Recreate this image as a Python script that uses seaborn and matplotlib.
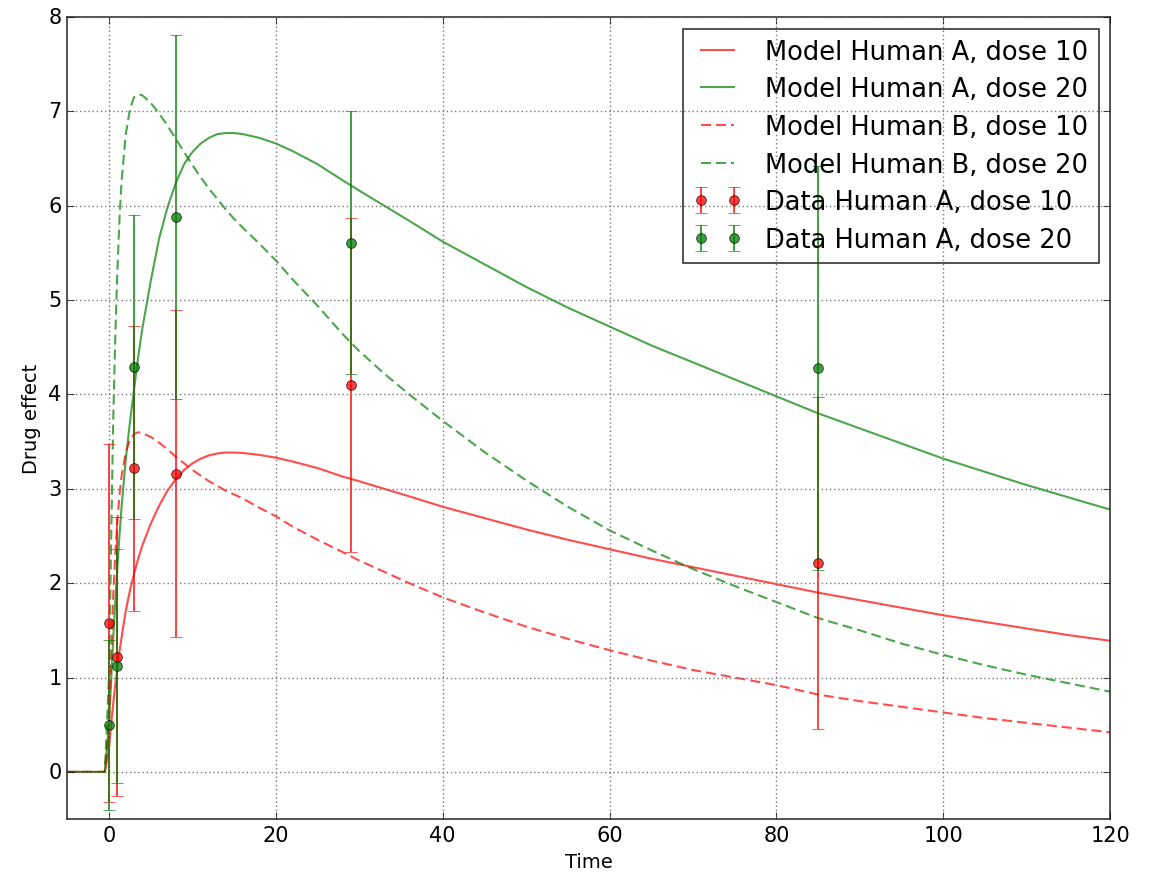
import matplotlib
matplotlib.use("Agg")
import matplotlib.pyplot as plt
import seaborn as sns
import pandas as pd

# ---- model curves ----
t_model = [-5, -0.5, 0, 0.25, 0.5, 0.75, 1, 1.25, 1.5, 2, 2.5, 3, 3.5, 4, 5, 6, 7, 8, 9, 10,
           11, 12, 13, 14, 15, 16, 18, 20, 22, 25, 28, 30, 33, 36, 40, 45, 50, 55, 60, 65,
           70, 75, 80, 85, 90, 95, 100, 105, 110, 115, 120]
model_A_10 = [0, 0, 0.25, 0.5, 0.72, 0.92, 1.1, 1.27, 1.42, 1.7, 1.92, 2.1, 2.26, 2.4, 2.63,
              2.82, 2.98, 3.1, 3.2, 3.27, 3.32, 3.355, 3.375, 3.385, 3.385, 3.38, 3.36, 3.33,
              3.29, 3.22, 3.13, 3.08, 3.0, 2.92, 2.81, 2.69, 2.57, 2.46, 2.36, 2.26, 2.17,
              2.08, 1.99, 1.90, 1.82, 1.74, 1.66, 1.59, 1.52, 1.45, 1.39]
model_A_20 = [0, 0, 0.5, 0.95, 1.4, 1.8, 2.15, 2.5, 2.8, 3.3, 3.7, 4.05, 4.4, 4.7, 5.2, 5.65,
              5.98, 6.24, 6.44, 6.57, 6.66, 6.72, 6.76, 6.77, 6.77, 6.76, 6.72, 6.66, 6.58,
              6.44, 6.27, 6.16, 6.0, 5.84, 5.62, 5.38, 5.14, 4.92, 4.72, 4.52, 4.34, 4.16,
              3.98, 3.8, 3.64, 3.48, 3.32, 3.18, 3.04, 2.91, 2.78]
model_B_10 = [0, 0, 0.5, 1.2, 1.85, 2.3, 2.65, 2.93, 3.13, 3.38, 3.52, 3.58, 3.6, 3.59, 3.55,
              3.49, 3.42, 3.34, 3.27, 3.2, 3.14, 3.08, 3.03, 2.98, 2.94, 2.9, 2.8, 2.71, 2.6,
              2.46, 2.33, 2.24, 2.12, 2.0, 1.85, 1.69, 1.54, 1.41, 1.29, 1.18, 1.08, 1.0,
              0.92, 0.82, 0.75, 0.69, 0.63, 0.57, 0.52, 0.47, 0.42]
model_B_20 = [0, 0, 1.0, 2.4, 3.7, 4.6, 5.3, 5.85, 6.25, 6.75, 7.02, 7.15, 7.18, 7.17, 7.09,
              6.98, 6.85, 6.71, 6.57, 6.43, 6.3, 6.18, 6.07, 5.96, 5.86, 5.77, 5.6, 5.42,
              5.22, 4.94, 4.64, 4.46, 4.22, 4.0, 3.72, 3.39, 3.09, 2.81, 2.56, 2.35, 2.15,
              1.97, 1.80, 1.63, 1.5, 1.36, 1.24, 1.13, 1.03, 0.94, 0.85]

# ---- measured data ----
t_data = [0, 1, 3, 8, 29, 85]
data_A_10 = [1.58, 1.22, 3.22, 3.16, 4.10, 2.21]
err_A_10 = [1.90, 1.48, 1.51, 1.73, 1.77, 1.76]
data_A_20 = [0.50, 1.12, 4.29, 5.88, 5.61, 4.28]
err_A_20 = [0.90, 1.24, 1.61, 1.93, 1.39, 2.14]

sns.set_style("ticks")
plt.style.use("classic")
plt.rcParams["font.family"] = ["DejaVu Sans"]
plt.rcParams["figure.facecolor"] = "white"
plt.rcParams["savefig.facecolor"] = "white"
plt.rcParams["lines.scale_dashes"] = False

fig = plt.figure(figsize=(11.6, 8.79), dpi=100)
ax = fig.add_axes([0.058, 0.067, 0.899, 0.9125])

dash = (0, (7.2, 3.6))
models = [
    ("Model Human A, dose 10", model_A_10, "r", "-"),
    ("Model Human A, dose 20", model_A_20, "g", "-"),
    ("Model Human B, dose 10", model_B_10, "r", dash),
    ("Model Human B, dose 20", model_B_20, "g", dash),
]
for label, vals, col, ls in models:
    df = pd.DataFrame({"Time": t_model, "effect": vals})
    sns.lineplot(data=df, x="Time", y="effect", ax=ax, color=col, alpha=0.7,
                 linewidth=1.5, label=label)
    ax.lines[-1].set_linestyle(ls)

for label, vals, errs, col in [("Data Human A, dose 10", data_A_10, err_A_10, "r"),
                               ("Data Human A, dose 20", data_A_20, err_A_20, "g")]:
    ax.errorbar(t_data, vals, yerr=errs, fmt="o", color=col, ecolor=col,
                elinewidth=1.4, capsize=4, capthick=1.2, markersize=7,
                markeredgecolor="black", markeredgewidth=0.6, alpha=0.75,
                label=label)

ax.set_xlim(-5, 120)
ax.set_ylim(-0.5, 8)
ax.set_xticks([0, 20, 40, 60, 80, 100, 120])
ax.set_yticks([0, 1, 2, 3, 4, 5, 6, 7, 8])
ax.grid(True, color="#777777", linestyle=(0, (1, 2)), linewidth=1.0)
ax.tick_params(labelsize=15, direction="in", length=5, top=True, right=True)
ax.set_xlabel("Time", fontsize=14)
ax.set_ylabel("Drug effect", fontsize=14)
for s in ax.spines.values():
    s.set_linewidth(1.2)
    s.set_color("#333333")

leg = ax.legend(loc="upper right", fontsize=18.5, numpoints=2, handlelength=1.9,
                handletextpad=0.9, labelspacing=0.45, borderaxespad=0.45,
                fancybox=False, frameon=True)
leg.get_frame().set_facecolor("none")
leg.get_frame().set_edgecolor("#333333")
leg.get_frame().set_linewidth(1.2)
for h in leg.get_lines():
    h.set_linewidth(1.5)

fig.savefig("out.png", dpi=100)
